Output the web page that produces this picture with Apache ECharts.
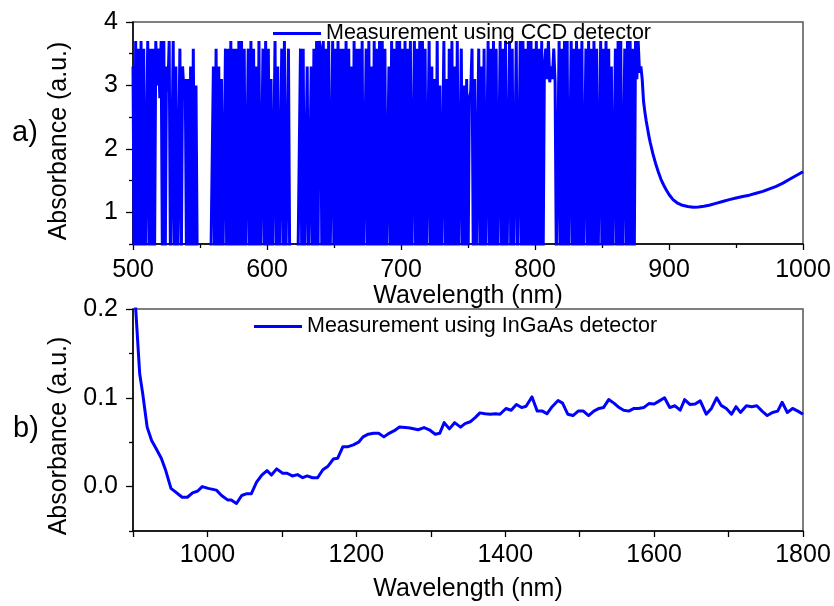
<!DOCTYPE html>
<html>
<head>
<meta charset="utf-8">
<script src="https://cdn.jsdelivr.net/npm/echarts@6/dist/echarts.min.js"></script>
<style>
html,body{margin:0;padding:0;background:#fff;}
#chart{width:834px;height:606px;}
</style>
</head>
<body>
<div id="chart"></div>
<script>
// ---- Panel a): CCD detector ----
// noisy (saturated) region, one value per nm starting at 500 nm (0 = below axis)
var ccdNoisyStartNm = 500;
var ccdNoisyAbs = [
3.3,0,3.7,0,3.58,0,3.7,0,3.58,0,
0,3.7,0,3.58,0,3.58,0,3.7,3.0,3.58,
2.8,3.7,0,3.7,0,3.3,2.9,3.7,0,0,
3.7,0,3.3,0,0,3.58,0,3.3,2.9,3.1,
0,3.1,0,3.3,0,3.58,0,3.0,0,0,
0,0,0,0,0,0,0,0,0,0,
3.3,0,3.58,0,3.3,0,3.1,0,0,3.58,
0,3.58,0,3.7,0,3.58,0,3.58,0,3.7,
0,3.7,0,3.58,0,0,3.58,0,3.7,0,
3.58,0,3.3,0,3.7,0,0,3.58,0,3.7,
0,3.58,0,3.1,0,0,3.7,0,3.3,0,
0,3.58,0,3.7,0,0,3.58,0,0,0,
0,0,0,0,0,3.58,0,3.58,0,0,
3.3,0,0,3.3,0,3.58,0,3.7,0,3.7,
3.58,0,3.7,0,3.58,0,3.7,0,0,3.7,
0,3.58,0,3.7,0,3.58,0,3.58,0,3.7,
0,3.58,0,3.3,0,3.7,0,3.58,0,3.58,
0,3.7,0,0,3.58,0,3.7,0,3.3,0,
3.7,0,3.58,0,3.7,0,3.7,0,3.58,0,
0,3.3,0,3.7,0,3.58,0,3.7,0,3.7,
0,3.58,0,3.7,0,3.58,0,3.7,0,0,
3.7,0,3.58,0,3.7,0,3.7,0,3.58,0,
0,3.7,0,3.3,0,3.1,0,3.7,0,3.0,
0,0,3.7,0,3.1,0,3.58,0,3.7,0,
3.3,0,3.7,0,0,3.58,0,3.0,0,3.1,
0,2.8,2.9,3.58,0,3.1,0,0,3.58,0,
3.3,0,3.58,0,0,3.7,0,3.58,0,3.7,
0,3.58,0,0,3.7,0,3.58,0,3.7,0,
0,3.7,0,3.58,0,0,3.7,0,0,3.7,
0,3.7,0,3.58,0,3.7,0,3.7,0,3.58,
0,3.7,0,3.58,0,3.7,0,3.3,3.58,3.1,
3.7,3.05,3.3,3.1,3.58,3.05,0,0,3.7,0,
3.58,0,3.7,0,3.7,0,0,3.7,0,3.58,
0,3.7,0,3.58,0,3.7,0,0,3.58,0,
3.7,0,3.58,0,3.7,0,3.58,0,0,3.7,
0,3.58,0,3.7,0,3.58,0,3.3,0,0,
3.58,0,3.7,0,3.7,0,0,3.58,0,3.7,
0,3.7,0,3.58,0,3.7,3.1,3.7,3.2,3.3,
3.1
];
// smooth region
var ccdCurveNm  = [881,882,883,884,885,886,888,890,892,894,896,898,900,903,906,910,914,918,922,926,930,935,940,945,950,955,960,965,970,975,980,985,990,995,1000];
var ccdCurveAbs = [2.75,2.58,2.44,2.32,2.2,2.1,1.92,1.77,1.64,1.52,1.43,1.35,1.28,1.2,1.15,1.11,1.09,1.08,1.085,1.095,1.11,1.14,1.17,1.2,1.225,1.25,1.27,1.3,1.33,1.37,1.41,1.46,1.52,1.58,1.64];

// ---- Panel b): InGaAs detector ----
var ingaasNm = [900,907,909,913,916,919,925,931,938,944,951,957,966,973,980,987,993,1001,1012,1019,1027,1032,1039,1046,1053,1059,1066,1073,1080,1086,1093,1101,1107,1114,1121,1128,1134,1141,1148,1155,1162,1169,1175,1182,1189,1196,1203,1209,1216,1223,1230,1237,1244,1251,1258,1266,1272,1283,1291,1298,1306,1312,1318,1325,1332,1340,1346,1353,1360,1366,1373,1380,1387,1393,1401,1408,1415,1422,1428,1436,1443,1450,1456,1463,1471,1477,1484,1491,1498,1505,1512,1519,1526,1532,1539,1546,1553,1559,1566,1573,1579,1586,1593,1600,1606,1614,1621,1628,1635,1641,1648,1655,1662,1670,1677,1684,1690,1697,1704,1710,1716,1724,1731,1738,1745,1752,1759,1766,1772,1779,1786,1793,1800];
var ingaasAbs = [0.25,0.154,0.127,0.105,0.086,0.067,0.052,0.043,0.032,0.018,-0.002,-0.006,-0.012,-0.012,-0.007,-0.005,0.000,-0.002,-0.004,-0.010,-0.015,-0.015,-0.019,-0.010,-0.008,-0.008,0.005,0.013,0.018,0.013,0.020,0.015,0.015,0.012,0.0135,0.010,0.012,0.010,0.010,0.019,0.023,0.031,0.032,0.045,0.045,0.047,0.050,0.056,0.059,0.060,0.060,0.056,0.060,0.063,0.067,0.0665,0.066,0.064,0.0665,0.064,0.059,0.060,0.072,0.065,0.072,0.067,0.071,0.073,0.078,0.083,0.082,0.0815,0.082,0.0815,0.088,0.086,0.0925,0.089,0.0905,0.101,0.085,0.085,0.082,0.090,0.097,0.094,0.0815,0.080,0.085,0.085,0.080,0.085,0.088,0.089,0.098,0.094,0.089,0.086,0.085,0.088,0.088,0.089,0.0935,0.093,0.096,0.100,0.089,0.091,0.086,0.098,0.0925,0.093,0.0965,0.0815,0.088,0.100,0.0915,0.088,0.0815,0.090,0.0835,0.091,0.090,0.091,0.085,0.080,0.0835,0.085,0.095,0.0835,0.088,0.085,0.0815];

// tick labels
var topXTicks = [500,600,700,800,900,1000];
var topYMajor = [1,2,3,4];
var topYMinor = [0.5,1.5,2.5,3.5];
var botXMajor = [1000,1200,1400,1600,1800];
var botYMajor = [0,0.1,0.2];
var botYMinor = [-0.05,0.05,0.15];

var seriesNameA = 'Measurement using CCD detector';
var seriesNameB = 'Measurement using InGaAs detector';

// build data pairs
var ccdData = [];
for (var i = 0; i < ccdNoisyAbs.length; i++) ccdData.push([ccdNoisyStartNm + i, ccdNoisyAbs[i]]);
for (var j = 0; j < ccdCurveNm.length; j++) ccdData.push([ccdCurveNm[j], ccdCurveAbs[j]]);
var ingaasData = ingaasNm.map(function (x, k) { return [x, ingaasAbs[k]]; });

var FONT = '"Liberation Sans", Arial, Helvetica, sans-serif';
var axisLineStyle = { color: '#000', width: 1.5 };

function xAxisCfg(gi, min, max, interval, nameGap, labelMargin, fmt) {
  return {
    type: 'value', gridIndex: gi, min: min, max: max, interval: interval,
    axisLine: { show: true, onZero: false, lineStyle: axisLineStyle },
    axisTick: { show: true, inside: false, length: 6, lineStyle: { color: '#000', width: 1.3 } },
    splitLine: { show: false },
    axisLabel: { fontSize: 25, color: '#000', fontFamily: FONT, margin: labelMargin, formatter: fmt },
    name: 'Wavelength (nm)', nameLocation: 'middle', nameGap: nameGap,
    nameTextStyle: { fontSize: 25, color: '#000', fontFamily: FONT }
  };
}

var option = {
  animation: false,
  backgroundColor: '#fff',
  textStyle: { fontFamily: FONT },
  grid: [
    { left: 133, top: 22, width: 670, height: 222, show: true, borderColor: '#555', borderWidth: 1.5, backgroundColor: 'transparent' },
    { left: 133, top: 309, width: 670, height: 222, show: true, borderColor: '#555', borderWidth: 1.5, backgroundColor: 'transparent' }
  ],
  xAxis: [
    (function () {
      var a = xAxisCfg(0, 500, 1000, 100, 40, 14, function (v) { return String(v); });
      a.minorTick = { show: true, splitNumber: 2, length: 4, lineStyle: { color: '#000', width: 1.3 } };
      return a;
    })(),
    xAxisCfg(1, 900, 1800, 100, 46, 12, function (v) { return botXMajor.indexOf(v) >= 0 ? String(v) : ''; })
  ],
  yAxis: [
    {
      type: 'value', gridIndex: 0, min: 0.5, max: 4, position: 'left',
      axisLine: { show: true, onZero: false, lineStyle: axisLineStyle },
      axisTick: { show: true, length: 7, customValues: topYMajor, lineStyle: { color: '#000', width: 1.3 } },
      axisLabel: { fontSize: 25, color: '#000', fontFamily: FONT, margin: 15, customValues: topYMajor },
      splitLine: { show: false }
    },
    {
      type: 'value', gridIndex: 0, min: 0.5, max: 4, position: 'left',
      axisLine: { show: false, onZero: false },
      axisTick: { show: true, length: 4, customValues: topYMinor, lineStyle: { color: '#000', width: 1.3 } },
      axisLabel: { show: false },
      splitLine: { show: false }
    },
    {
      type: 'value', gridIndex: 1, min: -0.05, max: 0.2, position: 'left',
      axisLine: { show: true, onZero: false, lineStyle: axisLineStyle },
      axisTick: { show: true, length: 7, customValues: botYMajor, lineStyle: { color: '#000', width: 1.3 } },
      axisLabel: { fontSize: 25, color: '#000', fontFamily: FONT, margin: 15, customValues: botYMajor,
        formatter: function (v) { return v.toFixed(1); } },
      splitLine: { show: false }
    },
    {
      type: 'value', gridIndex: 1, min: -0.05, max: 0.2, position: 'left',
      axisLine: { show: false, onZero: false },
      axisTick: { show: true, length: 4, customValues: botYMinor, lineStyle: { color: '#000', width: 1.3 } },
      axisLabel: { show: false },
      splitLine: { show: false }
    }
  ],
  legend: [
    { data: [seriesNameA], left: 273, top: 22.5, padding: 0, icon: 'rect', itemWidth: 48, itemHeight: 3,
      textStyle: { fontSize: 21.5, color: '#000', fontFamily: FONT } },
    { data: [seriesNameB], left: 254, top: 315.5, padding: 0, icon: 'rect', itemWidth: 48, itemHeight: 3,
      textStyle: { fontSize: 21.5, color: '#000', fontFamily: FONT } }
  ],
  graphic: [
    { type: 'text', x: 59, y: 141, rotation: Math.PI / 2,
      style: { text: 'Absorbance (a.u.)', font: '25px ' + FONT, fill: '#000', align: 'center', verticalAlign: 'middle' } },
    { type: 'text', x: 59, y: 436, rotation: Math.PI / 2,
      style: { text: 'Absorbance (a.u.)', font: '25px ' + FONT, fill: '#000', align: 'center', verticalAlign: 'middle' } },
    { type: 'text', x: 25, y: 133,
      style: { text: 'a)', font: '29px ' + FONT, fill: '#000', align: 'center', verticalAlign: 'middle' } },
    { type: 'text', x: 26, y: 429,
      style: { text: 'b)', font: '29px ' + FONT, fill: '#000', align: 'center', verticalAlign: 'middle' } }
  ],
  series: [
    { name: seriesNameA, type: 'line', xAxisIndex: 0, yAxisIndex: 0, data: ccdData,
      showSymbol: false, symbol: 'none', clip: true, color: '#0000ff',
      lineStyle: { color: '#0000ff', width: 3, join: 'bevel' } },
    { name: seriesNameB, type: 'line', xAxisIndex: 1, yAxisIndex: 2, data: ingaasData,
      showSymbol: false, symbol: 'none', clip: true, color: '#0000ff',
      lineStyle: { color: '#0000ff', width: 3, join: 'round' } }
  ]
};

var chart = echarts.init(document.getElementById('chart'), null, { renderer: 'canvas' });
chart.setOption(option);
</script>
</body>
</html>
